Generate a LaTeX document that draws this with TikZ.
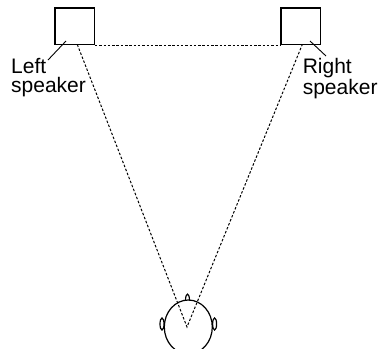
\documentclass[tikz,border=0pt]{standalone}
\usepackage{fontspec}
\setmainfont{Liberation Sans}
\usetikzlibrary{shapes.geometric}
\begin{document}
\begin{tikzpicture}[x=1pt,y=-1pt,
  spk/.style={draw,line width=1.2pt,minimum width=39.3pt,minimum height=36.5pt,inner sep=0pt},
  guide/.style={line width=1pt,dash pattern=on 2.5pt off 1.8pt},
  leader/.style={line width=0.9pt},
  lbl/.style={font=\fontsize{21}{19}\selectfont,align=left,inner sep=0pt,anchor=north west},
  headline/.style={line width=1.2pt}]
\useasboundingbox (0,0) rectangle (382,348);
\clip (0,0) rectangle (382,348);
\node[spk] (lbox) at (74.7,26.2) {};
\node[spk] (rbox) at (300.6,26.2) {};
\node[lbl] (ltext) at (11,58.2) {Left\\speaker};
\node[lbl] (rtext) at (302.6,58.2) {Right\\speaker};
\coordinate (lsrc) at (77.3,44.5);
\coordinate (rsrc) at (302.3,44.5);
\coordinate (ear) at (187,327);
\coordinate (lpin) at (66,41);
\coordinate (lend) at (48,60);
\coordinate (rpin) at (310,41);
\coordinate (rend) at (326,56);
\draw[guide] (lbox.south east) -- (rbox.south west);
\draw[guide] (lsrc) -- (ear) -- (rsrc);
\draw[leader] (lpin) -- (lend);
\draw[leader] (rpin) -- (rend);
\node[draw,headline,ellipse,minimum width=48pt,minimum height=54pt,inner sep=0pt] (head) at (188.3,327) {};
\node[draw,headline,ellipse,minimum width=4pt,minimum height=12pt,inner sep=0pt] (learx) at (162,324) {};
\node[draw,headline,ellipse,minimum width=4pt,minimum height=12pt,inner sep=0pt] (rearx) at (214.6,324) {};
\coordinate (nubl) at (185.5,300.6);
\coordinate (nubr) at (189.5,300.6);
\draw[headline] (nubl) .. controls (185.5,292) and (189.5,292) .. (nubr);
\end{tikzpicture}
\end{document}
